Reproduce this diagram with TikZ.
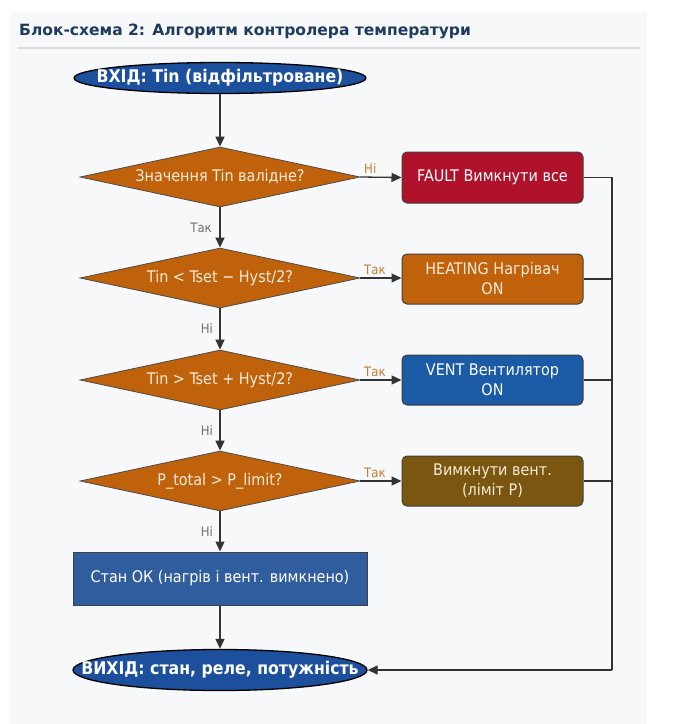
\documentclass[tikz,border=0pt]{standalone}
\usepackage{fontspec}
\setmainfont{DejaVu Sans Condensed}
\newfontfamily\titlefont{DejaVu Sans}
\usetikzlibrary{shapes.geometric,arrows.meta}
\definecolor{panelbg}{HTML}{F7F8FA}
\definecolor{titlecol}{HTML}{1E3A5F}
\definecolor{ellblue}{HTML}{1C4F9C}
\definecolor{okblue}{HTML}{2F5D9E}
\definecolor{ventblue}{HTML}{1B5AA5}
\definecolor{orng}{HTML}{C0620C}
\definecolor{faultred}{HTML}{B0122B}
\definecolor{olive}{HTML}{7A5610}
\definecolor{cream}{HTML}{F8ECD8}
\definecolor{lblorange}{HTML}{C87A30}
\definecolor{lblgray}{HTML}{707070}
\definecolor{linecol}{HTML}{333333}
\begin{document}
\begin{tikzpicture}[x=1pt,y=-1pt,
  conn/.style={draw=linecol, line width=1.3pt},
  arr/.style={conn, -{Triangle[length=10pt,width=9pt]}},
  term/.style={ellipse, draw=black, line width=1.3pt, fill=ellblue, inner sep=0pt, minimum width=292pt},
  termtext/.style={text=white, font=\bfseries\fontsize{17.5}{20}\selectfont, inner sep=0pt},
  decide/.style={diamond, draw=black!70, line width=0.8pt, fill=orng, text=cream, font=\fontsize{16}{19}\selectfont, inner sep=0pt, minimum width=280pt, minimum height=60pt, shape aspect=4.67},
  action/.style={rectangle, rounded corners=5pt, draw=black!75, line width=1pt, text=white, font=\fontsize{16}{20}\selectfont, align=center, minimum width=181pt, minimum height=50pt, inner sep=0pt},
  lblR/.style={text=lblorange, font=\fontsize{13}{15}\selectfont, inner sep=1pt},
  lblD/.style={text=lblgray, font=\fontsize{13}{15}\selectfont, inner sep=1pt},
]
\fill[white] (0,0) rectangle (697,724);
\fill[panelbg] (10,12) rectangle (647,724);
\useasboundingbox (0,0) rectangle (697,724);

\node[anchor=west, text=titlecol, font=\titlefont\bfseries\fontsize{15.5}{18}\selectfont, inner sep=0pt] (title) at (19,31) {Блок-схема 2: Алгоритм контролера температури};
\draw[draw=black!15, line width=1.5pt] (18,48) -- (640,48);

\node[term, minimum height=31pt] (in) at (220,78) {};
\node[termtext] (intext) at (in) {ВХІД: Tin (відфільтроване)};
\node[decide] (d1) at (220,177) {Значення Tin валідне?};
\node[decide] (d2) at (220,278) {Tin < Tset − Hyst/2?};
\node[decide] (d3) at (220,380) {Tin > Tset + Hyst/2?};
\node[decide] (d4) at (220,481) {P\_total > P\_limit?};
\node[rectangle, draw=black!75, line width=1pt, fill=okblue, text=white, font=\fontsize{16}{19}\selectfont, minimum width=294pt, minimum height=53pt, inner sep=0pt] (ok) at (220,578.5) {Стан ОК (нагрів і вент. вимкнено)};
\node[term, minimum width=294pt, minimum height=41pt] (out) at (220,670) {};
\node[termtext] (outtext) at (out) {ВИХІД: стан, реле, потужність};

\node[action, fill=faultred, minimum height=51pt] (fault) at (492.5,177.5) {FAULT Вимкнути все};
\node[action, fill=orng, text=cream] (heat) at (492.5,279) {HEATING Нагрівач\\ON};
\node[action, fill=ventblue] (vent) at (492.5,380) {VENT Вентилятор\\ON};
\node[action, fill=olive, text=cream] (lim) at (492.5,481) {Вимкнути вент.\\(ліміт P)};

\coordinate (bus) at (612,670);

\draw[arr] (in) -- (d1);
\draw[arr] (d1) -- (d2);
\draw[arr] (d2) -- (d3);
\draw[arr] (d3) -- (d4);
\draw[arr] (d4) -- (ok);
\draw[arr] (ok) -- (out);

\draw[arr] (d1.east) -- (fault.west);
\draw[arr] (d2.east) -- (heat.west |- d2.east);
\draw[arr] (d3.east) -- (vent.west |- d3.east);
\draw[arr] (d4.east) -- (lim.west |- d4.east);

\draw[conn] (fault.east) -| (bus);
\draw[conn] (heat.east) -- (heat.east -| bus);
\draw[conn] (vent.east) -- (vent.east -| bus);
\draw[conn] (lim.east) -- (lim.east -| bus);
\draw[arr] (bus) -- (out.east);

\node[lblR, anchor=south west] (n1) at (363,175) {Ні};
\node[lblR, anchor=south west] (y2) at (363,276) {Так};
\node[lblR, anchor=south west] (y3) at (363,378) {Так};
\node[lblR, anchor=south west] (y4) at (363,479) {Так};
\node[lblD, anchor=east] (y1) at (213,228) {Так};
\node[lblD, anchor=east] (n2) at (214,329) {Ні};
\node[lblD, anchor=east] (n3) at (214,431) {Ні};
\node[lblD, anchor=east] (n4) at (214,532) {Ні};
\end{tikzpicture}
\end{document}
